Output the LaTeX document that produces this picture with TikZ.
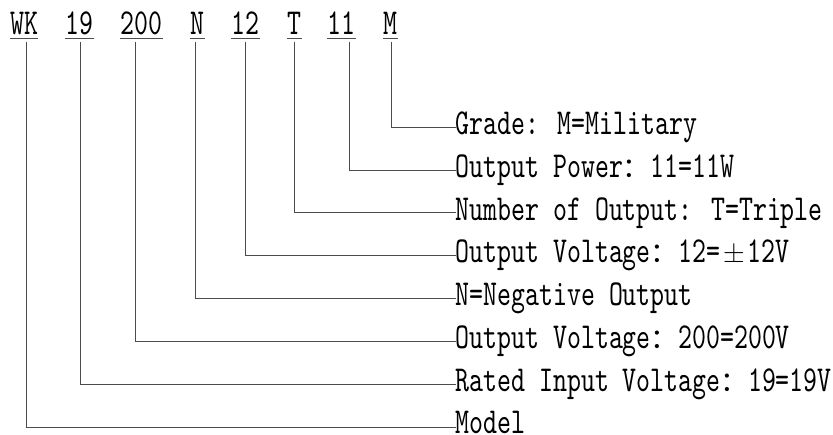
\documentclass[tikz,border=0pt]{standalone}
\usepackage{fontspec}
\newfontfamily\labfont{lmmono10-regular.otf}[FakeStretch=0.7275]
\newfontfamily\cjkfont{Noto Sans CJK SC}
\newcommand\labsize{\labfont\fontsize{36.5}{36.5}\selectfont}
\newcommand\fcolon{\makebox[27.5pt][l]{\cjkfont\fontsize{27.5}{27.5}\selectfont ：}}
\newcommand\fpm{\makebox[27.5pt]{\rmfamily\fontsize{30}{30}\selectfont ±}}
\tikzset{
  code/.style={anchor=base, inner sep=0pt, font=\labsize},
  desc/.style={anchor=base west, inner sep=0pt, font=\labsize},
  conn/.style={draw=black!70, line width=0.85pt},
}
\begin{document}
\begin{tikzpicture}[x=1pt,y=1pt]
\useasboundingbox (0,0) rectangle (833,-435);
% top code letters
\node[code] (wk)  at (24,-35)    {WK};
\node[code] (c19) at (79.5,-35)  {19};
\node[code] (c200) at (141.5,-35) {200};
\node[code] (cn)  at (197.5,-35) {N};
\node[code] (c12) at (245.5,-35) {12};
\node[code] (ct)  at (294.5,-35) {T};
\node[code] (c11) at (341.5,-35) {11};
\node[code] (cm)  at (390.5,-35) {M};
\foreach \n in {wk,c19,c200,cn,c12,ct,c11,cm}
  \draw[conn] ([yshift=-3.5pt]\n.base west) -- ([yshift=-3.5pt]\n.base east);
% descriptions
\node[desc] (grade) at (455.5,-134.5) {Grade: M=Military};
\node[desc] (power) at (455.5,-177.3) {Output Power\fcolon 11=11W};
\node[desc] (num)   at (455.5,-220.1) {Number of Output: T=Triple};
\node[desc] (volt)  at (455.5,-262.9) {Output Voltage\fcolon 12=\fpm 12V};
\node[desc] (neg)   at (455.5,-305.7) {N=Negative Output};
\node[desc] (ovolt) at (455.5,-348.5) {Output Voltage\fcolon 200=200V};
\node[desc] (rated) at (455.5,-391.3) {Rated Input Voltage\fcolon 19=19V};
\node[desc] (model) at (455.5,-433.6) {Model};
% connectors
\draw[conn] ([xshift=1.2pt,yshift=-6.7pt]cm.base)   |- ([yshift=7.2pt]grade.base west);
\draw[conn] ([xshift=7.8pt,yshift=-6.7pt]c11.base)  |- ([yshift=7.2pt]power.base west);
\draw[conn] ([xshift=-0.2pt,yshift=-6.7pt]ct.base)  |- ([yshift=7.2pt]num.base west);
\draw[conn] ([xshift=-0.5pt,yshift=-6.7pt]c12.base) |- ([yshift=7.2pt]volt.base west);
\draw[conn] ([xshift=-2.5pt,yshift=-6.7pt]cn.base)  |- ([yshift=7.2pt]neg.base west);
\draw[conn] ([xshift=-6.5pt,yshift=-6.7pt]c200.base) |- ([yshift=7.2pt]ovolt.base west);
\draw[conn] ([xshift=1.2pt,yshift=-6.7pt]c19.base)  |- ([yshift=7.2pt]rated.base west);
\draw[conn] ([xshift=2.7pt,yshift=-6.7pt]wk.base)   |- ([yshift=6.2pt]model.base west);
\end{tikzpicture}
\end{document}
